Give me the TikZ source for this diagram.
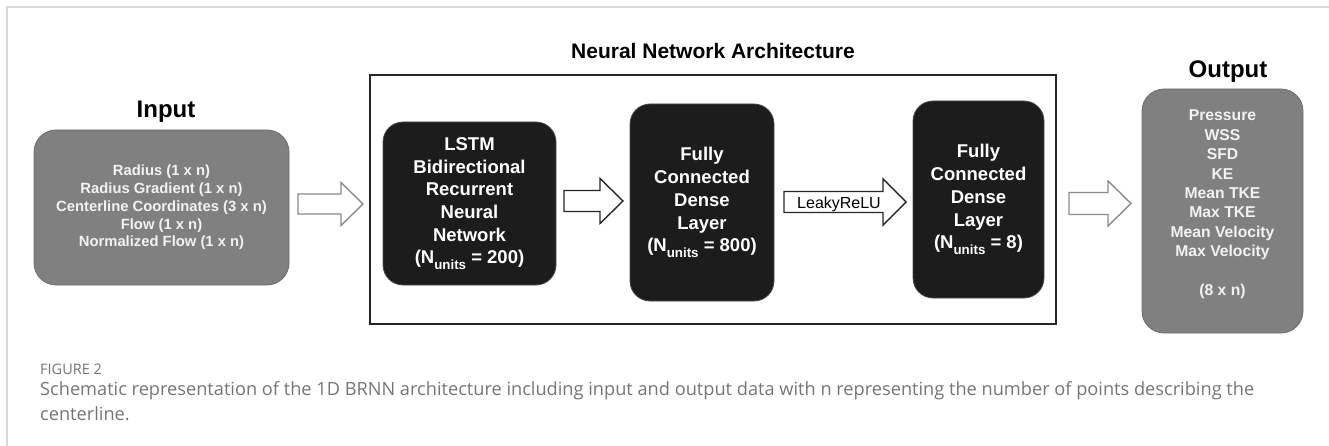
\documentclass[tikz,border=0pt]{standalone}
\usepackage{fontspec}
\usepackage{graphicx}
\setmainfont{Liberation Sans}
\newfontfamily\capfont{Open Sans}
\usetikzlibrary{calc}

\definecolor{boxgray}{HTML}{808080}
\definecolor{boxblack}{HTML}{1C1C1C}
\definecolor{pagerule}{HTML}{D8D8D8}
\definecolor{captext}{HTML}{757575}
\definecolor{lightarrow}{HTML}{8A8A8A}

% N with a lowered, reduced "units" subscript
\newcommand\nunits{N\raisebox{-0.3em}{\scalebox{0.72}{units}}}

% hollow block arrow: style, x start, x head base, x tip, y centre, shaft half, head half
\newcommand\blockarrow[7]{%
  \draw[#1] (#2,{#5-#6}) -- (#3,{#5-#6}) -- (#3,{#5-#7}) -- (#4,#5)
    -- (#3,{#5+#7}) -- (#3,{#5+#6}) -- (#2,{#5+#6}) -- cycle;}

\tikzset{
  graybox/.style={fill=boxgray, draw=boxgray!85!black, line width=0.8pt,
    rounded corners=22pt, text=white!95!black, align=center,
    font=\bfseries\fontsize{14.8}{17.8}\selectfont},
  blackbox/.style={fill=boxblack, draw=black!70, line width=0.8pt,
    rounded corners=20pt, text=white, align=center,
    font=\bfseries\fontsize{18.5}{22.7}\selectfont},
  outtext/.style={text=white!95!black, align=center,
    font=\bfseries\fontsize{15.7}{19.4}\selectfont},
  title/.style={font=\bfseries\fontsize{24}{28}\selectfont, anchor=base},
  nntitle/.style={font=\bfseries\fontsize{21}{25}\selectfont, anchor=base},
  nnframe/.style={draw=black!85, line width=1.6pt},
  grayarrow/.style={draw=lightarrow, fill=white, line width=1.4pt},
  darkarrow/.style={draw=black!85, fill=white, line width=1.4pt},
  actlabel/.style={font=\fontsize{16}{19}\selectfont, anchor=base},
  captionline/.style={anchor=base west, inner sep=0pt, text=captext,
    font=\capfont\fontsize{18.2}{25}\selectfont},
}

\begin{document}
\begin{tikzpicture}[x=1pt, y=-1pt]
\useasboundingbox (0,0) rectangle (1329,446);

% page rules along the top and left edges
\draw[pagerule, line width=1.3pt] (7,446) -- (7,7) -- (1329,7);

% input block
\node[title] (intitle) at (166,118) {Input};
\node[graybox, minimum width=255pt, minimum height=155pt] (in) at (161.5,207.5)
  {Radius (1 x n)\\Radius Gradient (1 x n)\\Centerline Coordinates (3 x n)\\Flow (1 x n)\\Normalized Flow (1 x n)};

% network frame and its layers
\node[nnframe, minimum width=686pt, minimum height=249pt, inner sep=0pt] (nn) at (713,199.5) {};
\node[nntitle] (nntitle) at (713,59) {Neural Network Architecture};

\node[blackbox, minimum width=173pt, minimum height=163pt] (lstm) at (469.5,203.5)
  {LSTM\\Bidirectional\\Recurrent\\Neural\\Network\\(\nunits{} = 200)};
\node[blackbox, minimum width=144pt, minimum height=197pt] (fc1) at (702,202.5)
  {Fully\\Connected\\Dense\\Layer\\(\nunits{} = 800)};
\node[blackbox, minimum width=131pt, minimum height=197pt] (fc2) at (978.5,199.5)
  {Fully\\Connected\\Dense\\Layer\\(\nunits{} = 8)};

% output block
\node[title] (outtitle) at (1228,78) {Output};
\node[graybox, minimum width=161pt, minimum height=244pt] (out) at (1222.5,211) {};
\node[outtext] (outlist) at ($(out.center)+(0,-6.5)$)
  {Pressure\\WSS\\SFD\\KE\\Mean TKE\\Max TKE\\Mean Velocity\\Max Velocity\\[19.4pt](8 x n)};

% block arrows between the stages
\blockarrow{grayarrow}{298}{341}{363}{204}{10}{21.5}
\blockarrow{darkarrow}{564}{600}{623}{201}{10.5}{22.5}
\blockarrow{darkarrow}{784}{883}{906}{202}{10.5}{23}
\blockarrow{grayarrow}{1069}{1108}{1131}{203.5}{11}{22.5}
\node[actlabel] (act) at (839,208.5) {LeakyReLU};

% caption
\node[anchor=base west, inner sep=0pt, text=captext,
  font=\capfont\fontsize{14.5}{17}\selectfont] (figlabel) at (40,374) {FIGURE 2};
\node[captionline] (cap1) at (40,395)
  {Schematic representation of the 1D BRNN architecture including input and output data with n representing the number of points describing the};
\node[captionline] (cap2) at (40,420) {centerline.};
\end{tikzpicture}
\end{document}
